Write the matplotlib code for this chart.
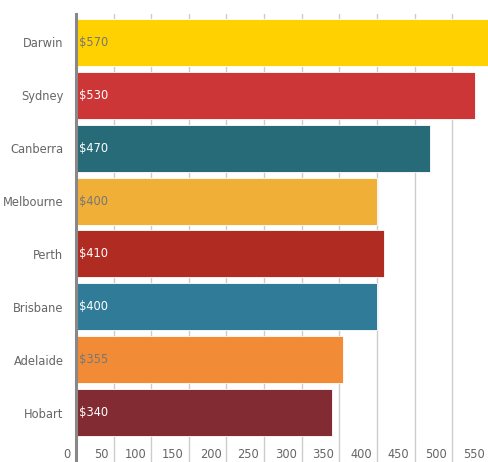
import numpy as np
import matplotlib.pyplot as plt
from matplotlib import transforms

cities = ['Darwin', 'Sydney', 'Canberra', 'Melbourne', 'Perth', 'Brisbane', 'Adelaide', 'Hobart']
prices = [570, 530, 470, 400, 410, 400, 355, 340]
colors = ['#FFD100', '#CC3636', '#276A78', '#F0AF36', '#B02B22', '#307C98', '#F28B36', '#832B33']
label_colors = ['#777777', 'white', 'white', '#777777', 'white', 'white', '#777777', 'white']
x_ticks = [0, 50, 100, 150, 200, 250, 300, 350, 400, 450, 500, 550]

plt.rcParams['font.family'] = ['DejaVu Sans']
plt.rcParams['font.stretch'] = 'condensed'

fig = plt.figure(figsize=(4.89, 4.62), dpi=100)
ax = fig.add_axes([76 / 489, 0, 413 / 489, 448 / 462])

y = np.arange(len(cities))
ax.barh(y, prices, height=0.89, color=colors, edgecolor='white', linewidth=0.6, zorder=2)

ax.set_xlim(0, 549)
ax.set_ylim(7.936, -0.539)

for xv in x_ticks[1:]:
    ax.axvline(xv, color='#cccccc', linewidth=1, zorder=1)

for sp in ['top', 'right', 'bottom']:
    ax.spines[sp].set_visible(False)
ax.spines['left'].set_color('#888888')
ax.spines['left'].set_linewidth(2.2)
ax.spines['left'].set_zorder(3)

ax.set_xticks([])
ax.set_yticks(y)
ax.set_yticklabels(cities, fontsize=9.2, color='#666666')
ax.tick_params(axis='y', length=0, pad=9)

# value labels inside bars
off = transforms.offset_copy(ax.transData, fig=fig, x=3, y=0, units='dots')
for yi, p, lc in zip(y, prices, label_colors):
    ax.text(0, yi, f'${p}', transform=off, ha='left', va='center',
            fontsize=9.2, color=lc, zorder=4)

# x tick labels at the bottom, inside the axes area
blend = transforms.blended_transform_factory(ax.transData, ax.transAxes)
tick_off = transforms.offset_copy(blend, fig=fig, x=-5, y=0, units='dots')
for xv in x_ticks:
    ax.text(xv, 0.016, str(xv), transform=tick_off, ha='right', va='center',
            fontsize=9.2, color='#666666', clip_on=False)

fig.savefig('out.png', dpi=100)
